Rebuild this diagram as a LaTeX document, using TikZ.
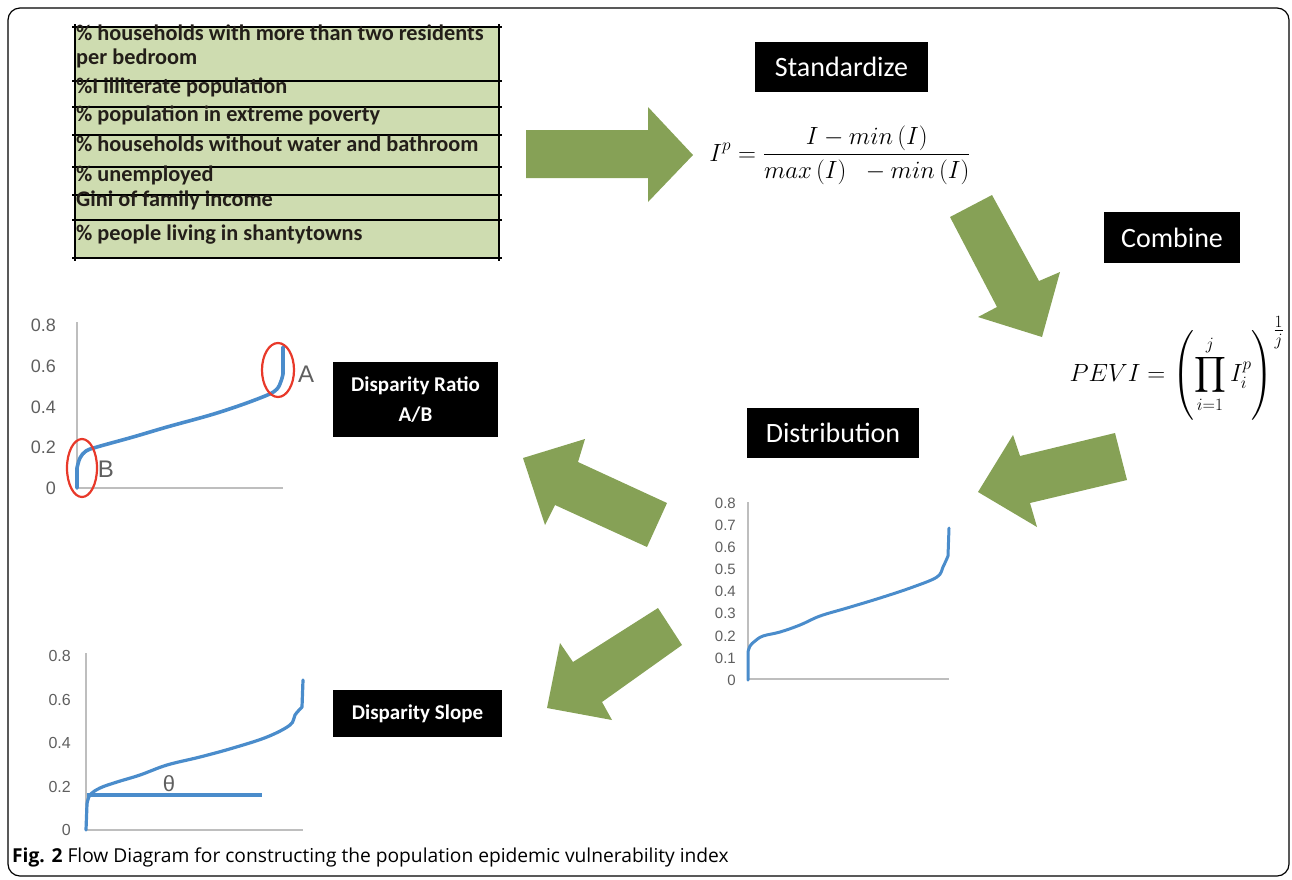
\documentclass[tikz,border=0pt]{standalone}
\usepackage{amsmath}
\usepackage{graphicx}
\usepackage{fontspec}
\setmainfont{Carlito}
\newfontfamily\chartfont{Liberation Sans}
\newfontfamily\capfont{Open Sans}
\usetikzlibrary{positioning}
\definecolor{arrowgreen}{RGB}{134,161,86}
\definecolor{tablegreen}{RGB}{206,220,176}
\definecolor{curveblue}{RGB}{74,140,203}
\definecolor{ringred}{RGB}{232,57,42}
\definecolor{axisgray}{RGB}{190,190,190}
\definecolor{ticktext}{RGB}{95,95,95}
\definecolor{rowtext}{RGB}{35,30,25}
\newcommand{\stdformula}{$\displaystyle I^{p}=\frac{I-min\,(I)}{max\,(I)\;\;-min\,(I)}$}
\newcommand{\peviformula}{$\displaystyle PEVI=\left(\prod_{i=1}^{j}I_i^{p}\right)^{\tfrac{1}{j}}$}

\begin{document}
\begin{tikzpicture}[
    x=1pt, y=-1pt,
    stepbox/.style={
        fill=black, text=white, inner sep=0pt, align=center
    },
    rowlabel/.style={anchor=base west, inner sep=0pt, text=rowtext,
        font=\fontsize{22.3}{25}\selectfont\bfseries},
    gridline/.style={draw=black, line width=1.8pt},
    blockarrow/.style={fill=arrowgreen, draw=none},
    axisline/.style={draw=axisgray, line width=1.3pt},
    curve/.style={draw=curveblue, line width=3.6pt, line join=round, line cap=round},
    ring/.style={draw=ringred, line width=2.2pt},
    tick/.style={anchor=east, inner sep=0pt, text=ticktext},
    pointlabel/.style={inner sep=0pt, text=ticktext, font=\chartfont\fontsize{24}{26}\selectfont}
]
\useasboundingbox (0,0) rectangle (1292,879);

\draw[line width=1.2pt, rounded corners=12pt] (8,8) rectangle (1289,876);

\fill[tablegreen] (75,27) rectangle (499,258);
\draw[gridline] (72,27) -- (502,27);
\draw[gridline] (72,81) -- (502,81);
\draw[gridline] (72,107) -- (502,107);
\draw[gridline] (72,135) -- (502,135);
\draw[gridline] (72,167) -- (502,167);
\draw[gridline] (72,195) -- (502,195);
\draw[gridline] (72,220) -- (502,220);
\draw[gridline] (72,258) -- (502,258);
\draw[gridline] (75,24) -- (75,261);
\draw[gridline] (499,24) -- (499,261);

\node[rowlabel] (row1)  at (76,40)  {\% households with more than two residents};
\node[rowlabel] (row1b) at (76,64)  {per bedroom};
\node[rowlabel] (row2)  at (76,93)  {\%I illiterate population};
\node[rowlabel] (row3)  at (76,121) {\% population in extreme poverty};
\node[rowlabel] (row4)  at (76,151) {\% households without water and bathroom};
\node[rowlabel] (row5)  at (76,181) {\% unemployed};
\node[rowlabel] (row6)  at (76,206) {Gini of family income};
\node[rowlabel] (row7)  at (76,240) {\% people living in shantytowns};

\node[stepbox, minimum width=173pt, minimum height=50pt, font=\fontsize{28}{32}\selectfont] (standard) at (841.5,67) {Standardize};
\node[stepbox, minimum width=136pt, minimum height=51pt, font=\fontsize{28}{32}\selectfont] (combine) at (1172,237.5) {Combine};
\node[stepbox, minimum width=172pt, minimum height=50pt, font=\fontsize{28}{32}\selectfont] (distrib) at (833,433) {Distribution};
\node[stepbox, minimum width=165pt, minimum height=75pt, font=\fontsize{21}{30}\selectfont\bfseries] (ratio) at (415.5,399.5) {Disparity Ratio\\A/B};
\node[stepbox, minimum width=169pt, minimum height=47pt, font=\fontsize{21}{25}\selectfont\bfseries] (slope) at (417.5,713.5) {Disparity Slope};

\node[inner sep=0pt, font=\fontsize{23}{27}\selectfont] (stdform) at (840,155) {\stdformula};
\node[inner sep=0pt, font=\fontsize{24}{28}\selectfont] (peviform) at (1177,368) {\peviformula};

\fill[blockarrow] (526,130) -- (648,130) -- (648,107) -- (693,155) -- (648,202) -- (648,178) -- (526,178) -- cycle;
\fill[blockarrow] (950,217) -- (992,195) -- (1039,281) -- (1060,272) -- (1042,337) -- (978,317) -- (997,307) -- cycle;
\fill[blockarrow] (1115,433) -- (1127,480) -- (1030,503) -- (1037,527) -- (978,492) -- (1013,435) -- (1020,456) -- cycle;
\fill[blockarrow] (523,458) -- (585,439) -- (578,462) -- (667,503) -- (647,547) -- (555,505) -- (545,525) -- cycle;
\fill[blockarrow] (658,608) -- (682,645) -- (602,702) -- (612,720) -- (547,708) -- (560,643) -- (573,662) -- cycle;

\draw[axisline] (77,322) -- (77,488) -- (283,488);
\node[tick, font=\chartfont\fontsize{18}{20}\selectfont] (ratio08) at (56,325) {0.8};
\node[tick, font=\chartfont\fontsize{18}{20}\selectfont] (ratio06) at (56,366) {0.6};
\node[tick, font=\chartfont\fontsize{18}{20}\selectfont] (ratio04) at (56,407) {0.4};
\node[tick, font=\chartfont\fontsize{18}{20}\selectfont] (ratio02) at (56,447) {0.2};
\node[tick, font=\chartfont\fontsize{18}{20}\selectfont] (ratio00) at (56,488) {0};
\draw[curve] (77,488) -- (77,468) -- plot[smooth, tension=0.6] coordinates
    {(77,468) (80,458) (86,451) (97,447) (133,437) (167,427) (217,413) (260,398) (277,389) (283,374)}
    -- (283,347);
\draw[ring] (278,370) ellipse [x radius=16pt, y radius=27pt];
\draw[ring] (82,468) ellipse [x radius=15pt, y radius=29pt];
\node[pointlabel] (pointA) at (306,374) {A};
\node[pointlabel] (pointB) at (106,469) {B};

\draw[axisline] (748,502) -- (748,679) -- (949,679);
\node[tick, font=\chartfont\fontsize{15}{17}\selectfont] (dist08) at (736,503) {0.8};
\node[tick, font=\chartfont\fontsize{15}{17}\selectfont] (dist07) at (736,525) {0.7};
\node[tick, font=\chartfont\fontsize{15}{17}\selectfont] (dist06) at (736,547) {0.6};
\node[tick, font=\chartfont\fontsize{15}{17}\selectfont] (dist05) at (736,569) {0.5};
\node[tick, font=\chartfont\fontsize{15}{17}\selectfont] (dist04) at (736,591) {0.4};
\node[tick, font=\chartfont\fontsize{15}{17}\selectfont] (dist03) at (736,613) {0.3};
\node[tick, font=\chartfont\fontsize{15}{17}\selectfont] (dist02) at (736,636) {0.2};
\node[tick, font=\chartfont\fontsize{15}{17}\selectfont] (dist01) at (736,658) {0.1};
\node[tick, font=\chartfont\fontsize{15}{17}\selectfont] (dist00) at (736,680) {0};
\draw[curve, line width=3pt] (748,680) -- (748,652) -- plot[smooth, tension=0.6] coordinates
    {(748,652) (750,646) (755,641) (763,636) (780,632) (800,625) (820,616) (847,608) (880,598) (913,587) (937,577) (943,567) (948,556)}
    -- (949,528);

\draw[axisline] (86,653) -- (86,830) -- (303,830);
\node[tick, font=\chartfont\fontsize{16}{18}\selectfont] (slope08) at (71,656) {0.8};
\node[tick, font=\chartfont\fontsize{16}{18}\selectfont] (slope06) at (71,700) {0.6};
\node[tick, font=\chartfont\fontsize{16}{18}\selectfont] (slope04) at (71,743) {0.4};
\node[tick, font=\chartfont\fontsize{16}{18}\selectfont] (slope02) at (71,787) {0.2};
\node[tick, font=\chartfont\fontsize{16}{18}\selectfont] (slope00) at (71,830) {0};
\draw[curve, line width=3.2pt] (86,830) -- (87,804) -- plot[smooth, tension=0.6] coordinates
    {(87,804) (90,795) (100,788) (117,782) (140,775) (167,765) (200,757) (233,748) (267,737) (290,725) (295,715) (302,707)}
    -- (303,680);
\draw[curve, line width=3.2pt, line cap=butt] (87,795) -- (262,795);
\node[pointlabel, font=\chartfont\fontsize{22}{24}\selectfont] (theta) at (169,784) {θ};

\node[anchor=base west, inner sep=0pt, text=black, font=\capfont\fontsize{19.2}{22}\selectfont] (caption) at (12,862)
    {\textbf{Fig. 2} Flow Diagram for constructing the population epidemic vulnerability index};

\end{tikzpicture}
\end{document}
